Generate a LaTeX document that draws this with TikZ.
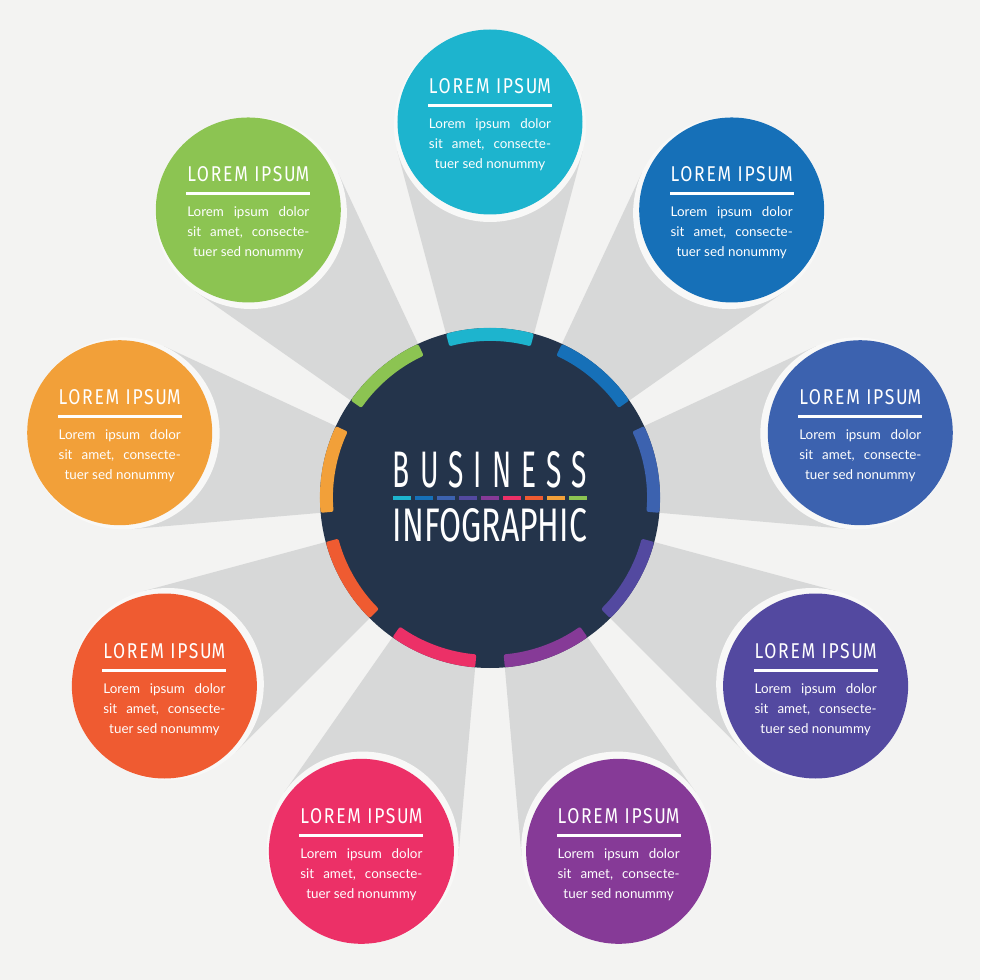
\documentclass[tikz,border=0pt]{standalone}
\usepackage{fontspec}
\usepackage{graphicx}
\usetikzlibrary{calc}
\setmainfont{Lato}
\newfontfamily\capsfont{Fira Sans}
\newfontfamily\capswide[LetterSpace=10]{Fira Sans}
\definecolor{paper}{HTML}{F3F3F2}
\definecolor{beamgray}{HTML}{D7D8D8}
\definecolor{ringwhite}{HTML}{F8F8F7}
\definecolor{hubnavy}{HTML}{24344B}
\definecolor{tcyan}{HTML}{1DB4CE}
\definecolor{tblue}{HTML}{1670B8}
\definecolor{tindigo}{HTML}{3C62AF}
\definecolor{tviolet}{HTML}{5349A0}
\definecolor{tpurple}{HTML}{863A97}
\definecolor{tpink}{HTML}{EC3067}
\definecolor{tred}{HTML}{EF5B31}
\definecolor{torange}{HTML}{F2A039}
\definecolor{tgreen}{HTML}{8CC452}

\newcommand{\loremtitle}{\resizebox{122pt}{15pt}{\capswide LOREM IPSU\capsfont M}}
\newcommand{\loremtext}{\vtop{\hsize=122pt\baselineskip=20pt
  \hbox to\hsize{Lorem\hfill ipsum\hfill dolor}
  \hbox to\hsize{sit\hfill amet,\hfill consecte-}
  \hbox to\hsize{\hfil tuer sed nonummy\hfil}}}

\tikzset{
  beam/.style={fill=beamgray},
  ring/.style={fill=ringwhite},
  bubble/.style={circle,fill=#1,minimum size=185pt,inner sep=0pt},
  hub/.style={circle,fill=hubnavy,minimum size=340pt,inner sep=0pt},
  title/.style={text=white,inner sep=0pt,anchor=base},
  blurb/.style={text=white!92!paper,inner sep=0pt,anchor=base,font=\fontsize{13.4}{20}\selectfont},
}

\begin{document}
\begin{tikzpicture}[x=1pt,y=1pt]
  \useasboundingbox[fill=paper] (-490,-482) rectangle (490,498);

  % Beams
  \foreach \a in {90,50,10,-30,-70,-110,-150,170,130}
    \fill[beam,rotate=\a] (0,0) -- (15:170) -- (347.3,92.8) -- (372,0) -- (347.3,-92.8) -- (-15:170) -- cycle;

  % Bubbles
  \foreach \n/\a/\c in {1/90/tcyan,2/50/tblue,3/10/tindigo,4/-30/tviolet,5/-70/tpurple,6/-110/tpink,7/-150/tred,8/170/torange,9/130/tgreen}{
    \fill[ring] (\a:372) circle (96);
    \node[bubble=\c] (b\n) at (\a:376) {};
    \node[title] (t\n) at ($(b\n)+(0,28)$) {\loremtitle};
    \fill[white] ($(b\n)+(-62,14.5)$) rectangle ++(124,3);
    \node[blurb] (d\n) at ($(b\n)+(0,-7)$) {\loremtext};
  }

  % Hub
  \node[hub] (hub) at (0,0) {};
  \foreach \a/\c in {90/tcyan,50/tblue,10/tindigo,-30/tviolet,-70/tpurple,-110/tpink,-150/tred,170/torange,130/tgreen}
    \fill[\c,rounded corners=2pt] ({\a-15}:170) arc[start angle=\a-15,end angle=\a+15,radius=170]
      -- ({\a+15}:157) arc[start angle=\a+15,end angle=\a-15,radius=157] -- cycle;

  % Heading
  \node[title] (word1) at (0,10) {\resizebox{194pt}{36pt}{\capsfont\hbox to 6.9em{B\hfill U\hfill S\hfill I\hfill N\hfill E\hfill S\hfill S}}};
  \foreach \c [count=\i from 0] in {tcyan,tblue,tindigo,tviolet,tpurple,tpink,tred,torange,tgreen}
    \fill[\c] ({-97+22*\i},-2) rectangle ++(17.6,4);
  \node[title] (word2) at (0,-44) {\resizebox{194pt}{33pt}{\capsfont INFOGRAPHIC}};
\end{tikzpicture}
\end{document}
